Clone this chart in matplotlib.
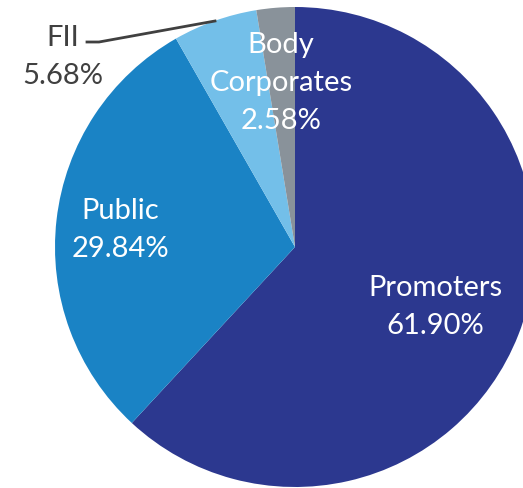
import matplotlib.pyplot as plt

# shareholding pattern
labels = ['Promoters', 'Public', 'FII', 'Body\nCorporates']
shares = [61.90, 29.84, 5.68, 2.58]
colors = ['#2C388F', '#1A83C5', '#73BFE9', '#89929A']

W, H = 523, 489
cx, cy, r = 295, 248, 240  # pie centre and radius in pixels


def px(x, y):
    # pixel position -> data coords (radius = 1)
    return (x - cx) / r, (cy - y) / r


fig = plt.figure(figsize=(W / 100, H / 100), dpi=100)
ax = fig.add_axes([0, 0, 1, 1])
ax.pie(shares, colors=colors, startangle=90, counterclock=False, radius=1,
       wedgeprops=dict(linewidth=0))
ax.set_xlim(-cx / r, (W - cx) / r)
ax.set_ylim(-(H - cy) / r, cy / r)
ax.set_aspect('equal')
ax.axis('off')

font = 'Lato'
fs = 21
ls = 1.55
# inside labels (white)
spots = {0: (435, 307), 1: (120, 230), 3: (281, 83)}
for i, (x, y) in spots.items():
    ax.text(*px(x, y), f'{labels[i]}\n{shares[i]:.2f}%', color='white',
            ha='center', va='center', fontsize=fs, family=font, linespacing=ls)

# FII label outside, with leader line
ax.text(*px(63, 57), f'{labels[2]}\n{shares[2]:.2f}%', color='#404040',
        ha='center', va='center', fontsize=fs, family=font, linespacing=ls)
lx, ly = zip(px(87, 43), px(99, 43), px(215, 22))
ax.plot(lx, ly, color='#404040', lw=2)

fig.savefig('out.png', dpi=100)
